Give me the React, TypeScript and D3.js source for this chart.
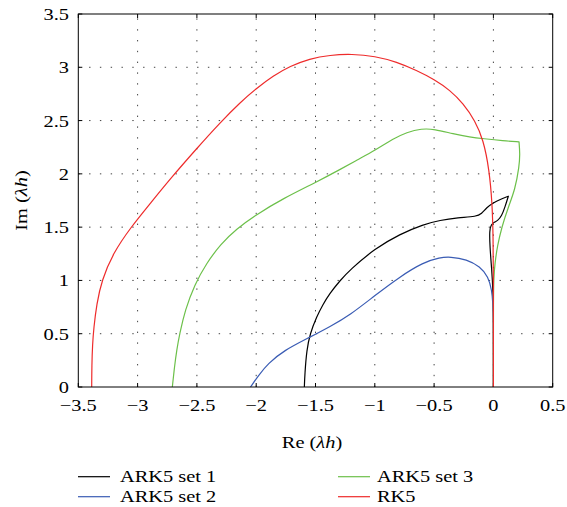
import React from "react";
import * as d3 from "d3";

// Stability region boundaries in the complex plane (Re(λh), Im(λh))
const ark5Set1: [number, number][] = [
  [-1.594, 0], [-1.59, 0.12], [-1.574, 0.35], [-1.546, 0.5], [-1.49, 0.66],
  [-1.44, 0.77], [-1.378, 0.88], [-1.3, 0.99], [-1.209, 1.1], [-0.998, 1.3],
  [-0.788, 1.435], [-0.591, 1.525], [-0.45, 1.565], [-0.3, 1.588],
  [-0.141, 1.60], [-0.1, 1.625], [-0.057, 1.685], [0, 1.73], [0.056, 1.76],
  [0.126, 1.79], [0.126, 1.79], [0.126, 1.79], [0.098, 1.69], [0.07, 1.605],
  [0.035, 1.56], [0.013, 1.55], [-0.02, 1.525], [-0.033, 1.47],
  [-0.03, 1.32], [-0.014, 1.10], [-0.003, 0.91], [0, 0.6], [0, 0.3], [0, 0],
];

const ark5Set2: [number, number][] = [
  [-2.048, 0], [-1.98, 0.11], [-1.9, 0.22], [-1.771, 0.34], [-1.546, 0.468],
  [-1.378, 0.566], [-1.209, 0.675], [-0.998, 0.86], [-0.788, 1.035],
  [-0.591, 1.17], [-0.45, 1.215], [-0.366, 1.222], [-0.225, 1.198],
  [-0.113, 1.13], [-0.043, 1.035], [-0.014, 0.91], [-0.004, 0.785],
  [0, 0.63], [0, 0.3], [0, 0],
];

const ark5Set3: [number, number][] = [
  [-2.707, 0], [-2.69, 0.18], [-2.67, 0.35], [-2.645, 0.5], [-2.60, 0.72],
  [-2.52, 0.96], [-2.42, 1.16], [-2.3, 1.34], [-2.17, 1.48], [-1.996, 1.62],
  [-1.771, 1.77], [-1.498, 1.92], [-1.294, 2.04], [-1.15, 2.13],
  [-0.998, 2.22], [-0.844, 2.33], [-0.731, 2.39], [-0.605, 2.425],
  [-0.498, 2.42], [-0.338, 2.375], [-0.197, 2.345], [-0.085, 2.33],
  [0.083, 2.31], [0.216, 2.30], [0.216, 2.30], [0.216, 2.30], [0.224, 2.19],
  [0.218, 2.07], [0.182, 1.85], [0.126, 1.69], [0.07, 1.50], [0.033, 1.32],
  [0.013, 1.16], [0.003, 1.03], [0, 0.8], [0, 0.4], [0, 0],
];

const rk5: [number, number][] = [
  [-3.387, 0], [-3.386, 0.2], [-3.38, 0.4], [-3.37, 0.55], [-3.345, 0.78],
  [-3.303, 1.0], [-3.205, 1.26], [-3.056, 1.5], [-2.895, 1.72],
  [-2.72, 1.96], [-2.5, 2.24], [-2.305, 2.48], [-2.135, 2.67],
  [-2.0, 2.8], [-1.856, 2.92], [-1.715, 3.01], [-1.55, 3.08],
  [-1.378, 3.115], [-1.195, 3.125], [-0.998, 3.105], [-0.815, 3.05],
  [-0.647, 2.97], [-0.498, 2.885], [-0.366, 2.785], [-0.254, 2.66],
  [-0.155, 2.5], [-0.085, 2.32], [-0.035, 2.04], [-0.01, 1.72],
  [-0.002, 1.41], [0, 1.0], [0, 0.5], [0, 0],
];

const seriesNames = ["ARK5 set 1", "ARK5 set 2", "ARK5 set 3", "RK5"];
const seriesColors = ["#000000", "#3a5cb4", "#6cc04a", "#ee2b2b"];
const seriesData = [ark5Set1, ark5Set2, ark5Set3, rk5];

const xTicks = [-3.5, -3, -2.5, -2, -1.5, -1, -0.5, 0, 0.5];
const yTicks = [0, 0.5, 1, 1.5, 2, 2.5, 3, 3.5];

const W = 567;
const H = 507;
const left = 78.3;
const right = 552.7;
const top = 14;
const bottom = 387;

const FONT = "'Liberation Serif', 'Times New Roman', serif";
const SX = 1.2; // horizontal widening of the serif face

const fmt = (v: number) => {
  const s = String(Math.abs(v));
  return v < 0 ? "\u2212" + s : s;
};

export default function App() {
  const x = d3.scaleLinear().domain([-3.5, 0.5]).range([left, right]);
  const y = d3.scaleLinear().domain([0, 3.5]).range([bottom, top]);
  const line = d3
    .line<[number, number]>()
    .x((d) => x(d[0]))
    .y((d) => y(d[1]))
    .curve(d3.curveBasis);

  const legendRows = [
    { i: 0, lx: 78, tx: 120, ly: 476.7, ty: 481.5 },
    { i: 1, lx: 78, tx: 120, ly: 496.7, ty: 501.5 },
    { i: 2, lx: 338, tx: 377, ly: 476.7, ty: 481.5 },
    { i: 3, lx: 338, tx: 377, ly: 496.7, ty: 501.5 },
  ];

  return (
    <svg
      width={W}
      height={H}
      style={{ position: "absolute", left: 0, top: 0, display: "block", background: "#fff" }}
      fontFamily={FONT}
    >
      <rect x={0} y={0} width={W} height={H} fill="#fff" />
      {/* dotted grid */}
      <g stroke="#444" strokeWidth={1} strokeDasharray="1.4 9.4">
        {xTicks.slice(1, -1).map((t) => (
          <line key={"gx" + t} x1={x(t)} x2={x(t)} y1={bottom} y2={top} />
        ))}
        {yTicks.slice(1, -1).map((t) => (
          <line key={"gy" + t} x1={left} x2={right} y1={y(t)} y2={y(t)} />
        ))}
      </g>
      {/* inward ticks on all sides */}
      <g stroke="#000" strokeWidth={1}>
        {xTicks.map((t) => (
          <g key={"tx" + t}>
            <line x1={x(t)} x2={x(t)} y1={bottom} y2={bottom - 4} />
            <line x1={x(t)} x2={x(t)} y1={top} y2={top + 4} />
          </g>
        ))}
        {yTicks.map((t) => (
          <g key={"ty" + t}>
            <line x1={left} x2={left + 4} y1={y(t)} y2={y(t)} />
            <line x1={right} x2={right - 4} y1={y(t)} y2={y(t)} />
          </g>
        ))}
      </g>
      {/* curves */}
      <g fill="none" strokeWidth={1.2} strokeLinejoin="round">
        {seriesData.map((d, i) => (
          <path key={seriesNames[i]} d={line(d) || ""} stroke={seriesColors[i]} />
        ))}
      </g>
      {/* frame */}
      <rect
        x={left}
        y={top}
        width={right - left}
        height={bottom - top}
        fill="none"
        stroke="#000"
        strokeWidth={1}
      />
      {/* tick labels */}
      <g fontSize={17} fill="#000">
        {xTicks.map((t) => (
          <text
            key={"lx" + t}
            textAnchor="middle"
            transform={`translate(${x(t)},${411}) scale(${SX},1)`}
          >
            {fmt(t)}
          </text>
        ))}
        {yTicks.map((t) => (
          <text
            key={"ly" + t}
            textAnchor="end"
            transform={`translate(${69},${y(t) + 6}) scale(${SX},1)`}
          >
            {fmt(t)}
          </text>
        ))}
      </g>
      {/* axis titles */}
      <g fontSize={17} fill="#000">
        <text textAnchor="middle" transform={`translate(${312},${448}) scale(${SX},1)`}>
          Re (<tspan fontStyle="italic">λh</tspan>)
        </text>
        <text
          textAnchor="middle"
          transform={`translate(${27},${(top + bottom) / 2}) rotate(-90) scale(${SX},1)`}
        >
          Im (<tspan fontStyle="italic">λh</tspan>)
        </text>
      </g>
      {/* legend */}
      <g fontSize={17} fill="#000">
        {legendRows.map((r) => (
          <g key={"lg" + r.i}>
            <line
              x1={r.lx}
              x2={r.lx + 32}
              y1={r.ly}
              y2={r.ly}
              stroke={seriesColors[r.i]}
              strokeWidth={1.2}
            />
            <text transform={`translate(${r.tx},${r.ty}) scale(${SX},1)`}>
              {seriesNames[r.i]}
            </text>
          </g>
        ))}
      </g>
    </svg>
  );
}
